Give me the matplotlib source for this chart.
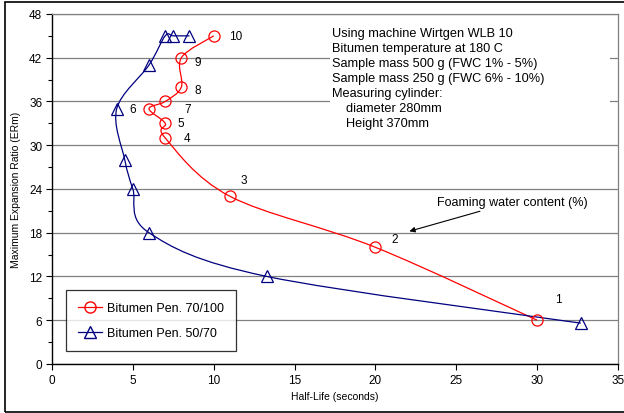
import numpy as np
import matplotlib
matplotlib.use('Agg')
import matplotlib.pyplot as plt
from matplotlib.path import Path
from matplotlib.patches import PathPatch, Rectangle
from matplotlib.lines import Line2D

plt.rcParams['font.family'] = ['Liberation Sans', 'DejaVu Sans']

# data (Half-life s, ERm)
pen70_half_life = [30, 20, 11, 7, 7, 6, 7, 8, 8, 10]
pen70_erm = [6, 16, 23, 31, 33, 35, 36, 38, 42, 45]
pen50_half_life = [32.7, 13.3, 6, 5, 4.5, 4, 6, 7, 7.5, 8.5]
pen50_erm = [5.6, 12, 18, 24, 28, 35, 41, 45, 45, 45]
fwc_labels = ['1', '2', '3', '4', '5', '6', '7', '8', '9', '10']

RED = '#FF0000'
BLUE = '#000080'


def smooth_path(x, y):
    """Excel-like smoothed line: cubic bezier through the points."""
    p = np.column_stack([x, y]).astype(float)
    n = len(p)
    verts = [p[0]]
    codes = [Path.MOVETO]
    for i in range(n - 1):
        p0 = p[i - 1] if i > 0 else p[i]
        p1 = p[i]
        p2 = p[i + 1]
        p3 = p[i + 2] if i + 2 < n else p[i + 1]
        verts += [p1 + (p2 - p0) / 6.0, p2 - (p3 - p1) / 6.0, p2]
        codes += [Path.CURVE4] * 3
    return Path(verts, codes)


fig = plt.figure(figsize=(6.24, 4.14), dpi=100)
ax = fig.add_axes([0.0833, 0.1184, 0.9071, 0.8454])

ax.add_patch(PathPatch(smooth_path(pen70_half_life, pen70_erm), fill=False,
                       edgecolor=RED, lw=0.9, zorder=3))
ax.add_patch(PathPatch(smooth_path(pen50_half_life, pen50_erm), fill=False,
                       edgecolor=BLUE, lw=0.9, zorder=3))
ax.plot(pen70_half_life, pen70_erm, ls='none', marker='o', ms=8,
        mfc='none', mec=RED, mew=0.9, zorder=4)
ax.plot(pen50_half_life, pen50_erm, ls='none', marker='^', ms=8.5,
        mfc='none', mec=BLUE, mew=0.9, zorder=4)

# FWC labels next to the red points (offsets in points)
offsets = [(15, 15), (14, 6), (10, 12), (16, 0), (11, 0),
           (-12, 0), (16, -5.5), (12, -2), (12, -3), (16, 0)]
for lab, xv, yv, off in zip(fwc_labels, pen70_half_life, pen70_erm, offsets):
    ax.annotate(lab, (xv, yv), xytext=off, textcoords='offset points',
                ha='center', va='center', fontsize=8.5)

ax.annotate('Foaming water content (%)', xy=(22.1, 18.2), xytext=(23.8, 22.2),
            ha='left', va='center', fontsize=9,
            arrowprops=dict(arrowstyle='-|>', color='black', lw=0.8,
                            mutation_scale=8, shrinkA=1, shrinkB=0))

# white box behind the notes (hides the gridlines)
ax.add_patch(Rectangle((0.491, 0.65), 0.495, 0.34, transform=ax.transAxes,
                       facecolor='white', edgecolor='none', zorder=2))
info = ('Using machine Wirtgen WLB 10\n'
        'Bitumen temperature at 180 C\n'
        'Sample mass 500 g (FWC 1% - 5%)\n'
        'Sample mass 250 g (FWC 6% - 10%)\n'
        'Measuring cylinder:\n'
        '    diameter 280mm\n'
        '    Height 370mm')
ax.text(0.495, 0.962, info, transform=ax.transAxes, ha='left', va='top',
        fontsize=9.2, linespacing=1.32, zorder=5)

ax.set_xlim(0, 35)
ax.set_ylim(0, 48)
ax.set_xticks(np.arange(0, 36, 5))
ax.set_yticks(np.arange(0, 49, 6))
ax.set_yticks(np.arange(3, 48, 6), minor=True)
ax.tick_params(axis='both', direction='out', length=4, width=0.8,
               labelsize=8.5, pad=3)
ax.tick_params(axis='y', which='minor', direction='out', length=3, width=0.8)
ax.yaxis.grid(True, color='#808080', lw=0.9)
ax.set_axisbelow(True)
for side in ['top', 'right']:
    ax.spines[side].set_color('#808080')
    ax.spines[side].set_linewidth(0.9)
for side in ['left', 'bottom']:
    ax.spines[side].set_linewidth(1.0)

ax.set_xlabel('Half-Life (seconds)', fontsize=7.5, labelpad=4)
ax.set_ylabel('Maximum Expansion Ratio (ERm)', fontsize=7.5, labelpad=6)

handles = [Line2D([], [], color=RED, lw=0.9, marker='o', ms=8, mfc='none', mec=RED),
           Line2D([], [], color=BLUE, lw=0.9, marker='^', ms=8.5, mfc='none', mec=BLUE)]
leg = ax.legend(handles, ['Bitumen Pen. 70/100', 'Bitumen Pen. 50/70'],
                loc='lower left', bbox_to_anchor=(0.024, 0.036), borderaxespad=0,
                fontsize=9, frameon=True, fancybox=False, handlelength=1.9,
                handletextpad=0.4, labelspacing=1.0, borderpad=1.0)
leg.get_frame().set_edgecolor('black')
leg.get_frame().set_linewidth(0.9)
leg.set_zorder(6)

# outer chart border
fig.patches.append(Rectangle((0.008, 0.003), 1.2, 0.99, transform=fig.transFigure,
                             fill=False, edgecolor='black', lw=1.2))

fig.savefig('out.png', dpi=100)
